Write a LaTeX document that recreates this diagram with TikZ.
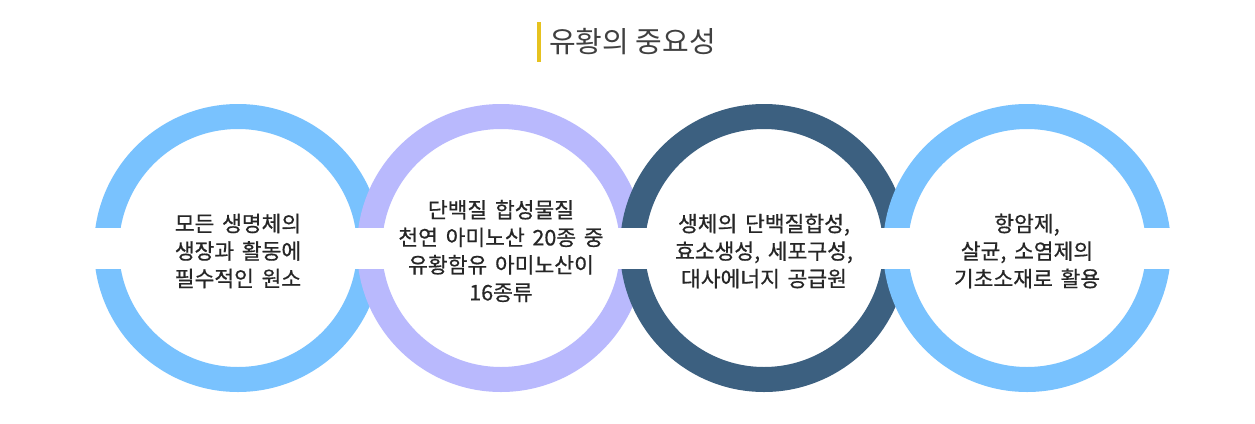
\documentclass[tikz,border=0pt]{standalone}
\usepackage{fontspec}
\setmainfont{Noto Sans CJK KR}
\newfontfamily\ringfont{Noto Sans CJK KR}[FakeBold=0.6, WordSpace=1.6]
\definecolor{ringblue}{HTML}{79C2FE}
\definecolor{ringlav}{HTML}{B9B9FD}
\definecolor{ringdark}{HTML}{3C6080}
\definecolor{baryellow}{HTML}{E6C21F}
\definecolor{titlegray}{HTML}{404040}
\definecolor{txt}{HTML}{262626}
\tikzset{
  ring/.style={circle, draw=#1, line width=25pt, minimum size=263pt, inner sep=0pt},
  ringtext/.style={align=center, text=txt, font=\ringfont\fontsize{21.5}{27.5}\selectfont, inner sep=0pt, yshift=-3pt},
}
\begin{document}
\begin{tikzpicture}[x=1pt,y=-1pt]
\useasboundingbox (0,0) rectangle (1255,423);
\fill[white] (0,0) rectangle (1255,423);
% title
\fill[baryellow] (537,22) rectangle (541,62);
\node[anchor=west, text=titlegray, font=\fontsize{29}{32}\selectfont, inner sep=0pt] (title) at (549,42) {유황의 중요성};
% rings
\node[ring=ringblue] (r1) at (238,248) {};
\node[ring=ringlav] (r2) at (501,248) {};
\node[ring=ringdark] (r3) at (764,248) {};
\node[ring=ringblue] (r4) at (1027,248) {};
% white band
\fill[white] (80,228) rectangle (1185,269);
% texts
\node[ringtext] (t1) at (r1) {모든 생명체의\\생장과 활동에\\필수적인 원소};
\node[ringtext] (t2) at (r2) {단백질 합성물질\\천연 아미노산 20종 중\\유황함유 아미노산이\\16종류};
\node[ringtext] (t3) at (r3) {생체의 단백질합성,\\효소생성, 세포구성,\\대사에너지 공급원};
\node[ringtext] (t4) at (r4) {항암제,\\살균, 소염제의\\기초소재로 활용};
\end{tikzpicture}
\end{document}
